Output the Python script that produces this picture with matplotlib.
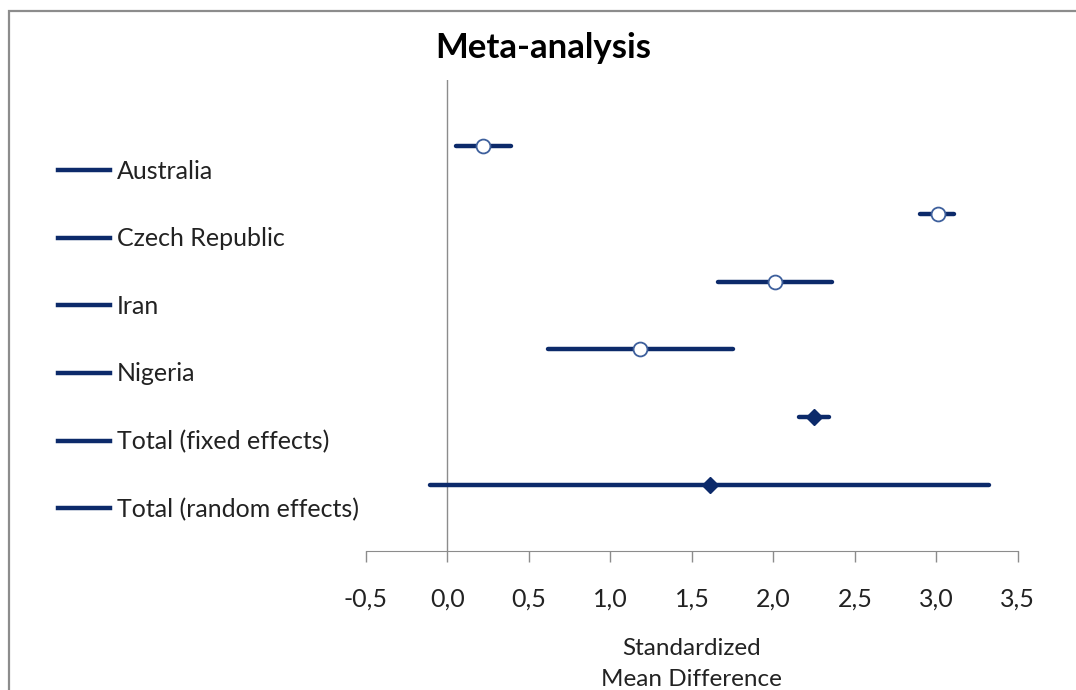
import matplotlib.pyplot as plt
from matplotlib.lines import Line2D
from matplotlib.patches import Rectangle

plt.rcParams['font.family'] = ['Lato', 'DejaVu Sans']

# --- DATA ---
studies = ["Australia", "Czech Republic", "Iran", "Nigeria",
           "Total (fixed effects)", "Total (random effects)"]
effect = [0.22, 3.01, 2.01, 1.18, 2.25, 1.61]
ci_low = [0.05, 2.90, 1.66, 0.62, 2.16, -0.11]
ci_high = [0.39, 3.11, 2.36, 1.75, 2.34, 3.32]
is_total = [False, False, False, False, True, True]
x_ticks = [-0.5, 0.0, 0.5, 1.0, 1.5, 2.0, 2.5, 3.0, 3.5]

navy = '#0c2a6a'
grey = '#8c8c8c'

# --- PLOTTING ---
fig = plt.figure(figsize=(10.76, 6.90), dpi=100)
ax = fig.add_axes([0.3401, 0.2014, 0.6059, 0.6826])

handles = []
for i, name in enumerate(studies):
    ax.plot([ci_low[i], ci_high[i]], [i, i], color=navy, lw=3.2,
            solid_capstyle='round', zorder=2)
    if is_total[i]:
        ax.plot(effect[i], i, marker='D', ms=8, color=navy, mec=navy, zorder=3)
    else:
        ax.plot(effect[i], i, marker='o', ms=10, mfc='white', mec='#3d5f9c',
                mew=1.3, zorder=3)
    handles.append(Line2D([0], [0], color=navy, lw=3.2))

ax.axvline(0, color=grey, lw=1, zorder=1)

ax.set_xlim(-0.5, 3.5)
ax.set_ylim(5.97, -0.97)
ax.set_xticks(x_ticks)
ax.set_xticklabels([f"{t:.1f}".replace('.', ',') for t in x_ticks])
ax.set_yticks([])
for s in ['left', 'right', 'top']:
    ax.spines[s].set_visible(False)
ax.spines['bottom'].set_color(grey)
ax.tick_params(axis='x', direction='out', length=8, width=1, color=grey,
               labelsize=18, labelcolor='#222222', pad=18)
ax.set_xlabel("Standardized\nMean Difference", fontsize=17.5, color='#222222',
              labelpad=20, linespacing=1.62)

fig.text(0.505, 0.931, "Meta-analysis", ha='center', va='center',
         fontsize=25, fontweight='bold', color='black')

fig.legend(handles, studies, loc='center left', bbox_to_anchor=(0.0539, 0.5065),
           frameon=False, fontsize=18, handlelength=2.08, handletextpad=0.28,
           labelspacing=1.78, borderpad=0, borderaxespad=0, labelcolor='#222222')

# chart frame (cropped at right/bottom)
fig.add_artist(Rectangle((0.0088, -0.2), 2.0, 1.184, transform=fig.transFigure,
                         fill=False, edgecolor=grey, lw=1.6))

plt.savefig("out.png", dpi=100)
plt.close()
